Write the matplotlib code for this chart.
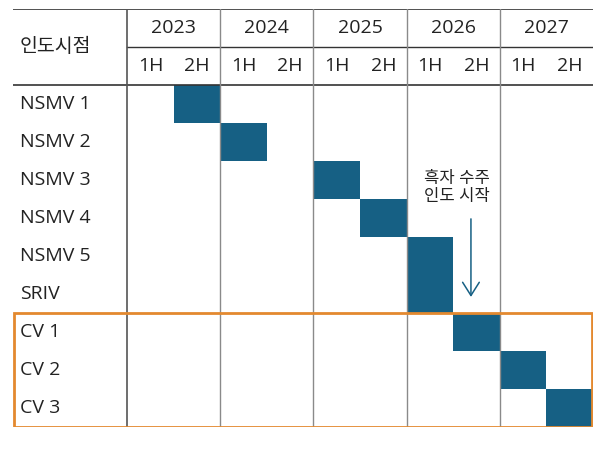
import matplotlib
matplotlib.use("Agg")
import matplotlib.pyplot as plt
from matplotlib.patches import Rectangle

plt.rcParams['font.family'] = ['Open Sans', 'Noto Sans CJK KR', 'DejaVu Sans']

# data
rows = ["NSMV 1", "NSMV 2", "NSMV 3", "NSMV 4", "NSMV 5", "SRIV", "CV 1", "CV 2", "CV 3"]
start_half = [1, 2, 4, 5, 6, 6, 7, 8, 9]   # index of half-year slot (0 = 2023 1H)
years = ["2023", "2024", "2025", "2026", "2027"]
halves = ["1H", "2H"]
corner_label = "인도시점"
note_text = "흑자 수주\n인도 시작"
cv_rows = ["CV 1", "CV 2", "CV 3"]

bar_color = "#166084"
orange = "#E3892F"
txt = "#222222"
fs = 14

fig = plt.figure(figsize=(5.95, 4.51), dpi=100)
ax = fig.add_axes([13/595, (451-427)/451, 580/595, 418/451])
nslots = len(years) * len(halves)
left_w = 2.45
ax.set_xlim(-left_w, nslots)
ax.set_ylim(len(rows), -2)
ax.axis("off")

# bars
ypos = [i + 0.5 for i in range(len(rows))]
ax.barh(ypos, [1]*len(rows), left=start_half, height=1.0, color=bar_color, zorder=2)

# grid lines
ax.plot([-left_w, nslots], [-2, -2], color="#333333", lw=1.2, zorder=3)
ax.plot([0, nslots], [-1, -1], color="#333333", lw=1.0, zorder=3)
ax.plot([-left_w, nslots], [0, 0], color="#333333", lw=1.2, zorder=3)
ax.plot([0, 0], [-2, len(rows)], color="#555555", lw=1.2, zorder=3)
for k in range(1, len(years)):
    ax.plot([2*k, 2*k], [-2, len(rows)], color="#8a8a8a", lw=1.0, zorder=3)

# header text
for k, y in enumerate(years):
    ax.text(2*k + 1, -1.5, y, ha="center", va="center", fontsize=fs, color=txt)
    for j, h in enumerate(halves):
        ax.text(2*k + j + 0.5, -0.5, h, ha="center", va="center", fontsize=fs, color=txt)
ax.text(-left_w + 0.15, -1, corner_label, ha="left", va="center", fontsize=fs, color=txt)

# row labels
for i, r in enumerate(rows):
    ax.text(-left_w + 0.15, i + 0.5, r, ha="left", va="center", fontsize=fs, color=txt)

# orange box around CV rows
first_cv = rows.index(cv_rows[0])
ax.add_patch(Rectangle((-left_w + 0.02, first_cv), nslots + left_w - 0.04, len(cv_rows),
                       fill=False, edgecolor=orange, lw=2, zorder=4))

# annotation
ax.text(7.08, 2.72, note_text, ha="center", va="center", fontsize=12, color=txt,
        linespacing=1.15)
ax.annotate("", xy=(7.38, 5.65), xytext=(7.38, 3.45),
            arrowprops=dict(arrowstyle="->,head_width=0.6,head_length=0.95",
                            mutation_scale=10, color=bar_color, lw=1.1))

fig.savefig("out.png", dpi=100)
